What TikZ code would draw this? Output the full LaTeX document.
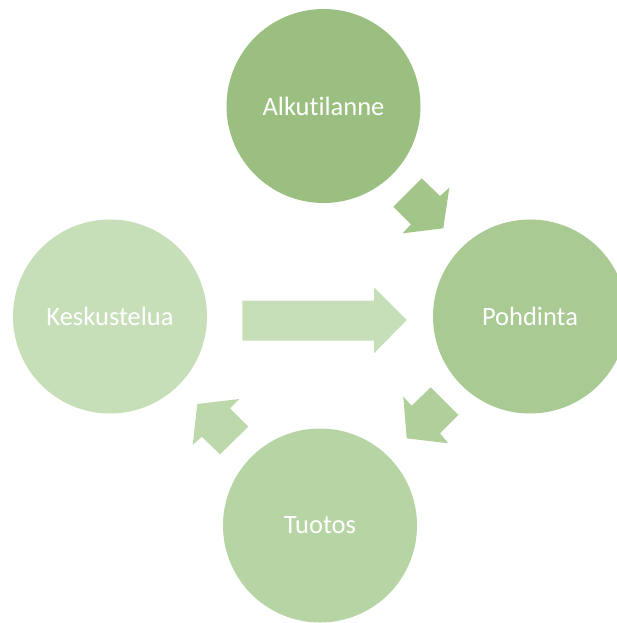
\documentclass[tikz,border=0pt]{standalone}
\usepackage{fontspec}
\setmainfont[Ligatures=NoCommon]{Carlito}
\definecolor{cA}{HTML}{9BBF80}
\definecolor{cP}{HTML}{A9CA92}
\definecolor{cT}{HTML}{B7D4A4}
\definecolor{cK}{HTML}{C6DFB8}
\definecolor{aA}{HTML}{A2C589}
\definecolor{aP}{HTML}{B0CF9B}
\definecolor{aT}{HTML}{BDD9AB}
\definecolor{aK}{HTML}{C6DFB8}
\tikzset{
  stage/.style={circle, minimum size=194pt, inner sep=0pt, text=white,
    font=\fontsize{26.5}{30}\selectfont}
}
\begin{document}
\begin{tikzpicture}[x=1pt, y=-1pt]
\useasboundingbox (0,0) rectangle (617,623);
\clip (0,0) rectangle (617,623);
\fill[white] (0,0) rectangle (617,623);

% the four stages of the cycle
\node[stage, fill=cA] (alku) at (323.5,106) {Alkutilanne};
\node[stage, fill=cP] (pohd) at (530,316.5) {Pohdinta};
\node[stage, fill=cT] (tuot) at (320,525.5) {Tuotos};
\node[stage, fill=cK] (kesk) at (110,316.5) {Keskustelua};

% block arrows between the stages
\fill[aA] (421.7,178.3) -- (440,196) -- (449.3,187.7) -- (443.3,228.3)
  -- (402.7,233.3) -- (411,224.3) -- (393.3,206.7) -- cycle;
\fill[aP] (430.7,387.3) -- (458.3,415) -- (440,433.3) -- (448.3,443.3)
  -- (406.7,438.3) -- (403.3,396.7) -- (411.7,405.7) -- cycle;
\fill[aT] (239.3,399) -- (197.3,404) -- (192.7,445) -- (201.7,436.7)
  -- (220,454.3) -- (248.3,426.7) -- (230,408.3) -- cycle;
\fill[aK] (242.3,300.7) -- (374,300.7) -- (374,287.3) -- (406.7,320)
  -- (374,353.3) -- (374,340.7) -- (242.3,340.7) -- cycle;
\end{tikzpicture}
\end{document}
